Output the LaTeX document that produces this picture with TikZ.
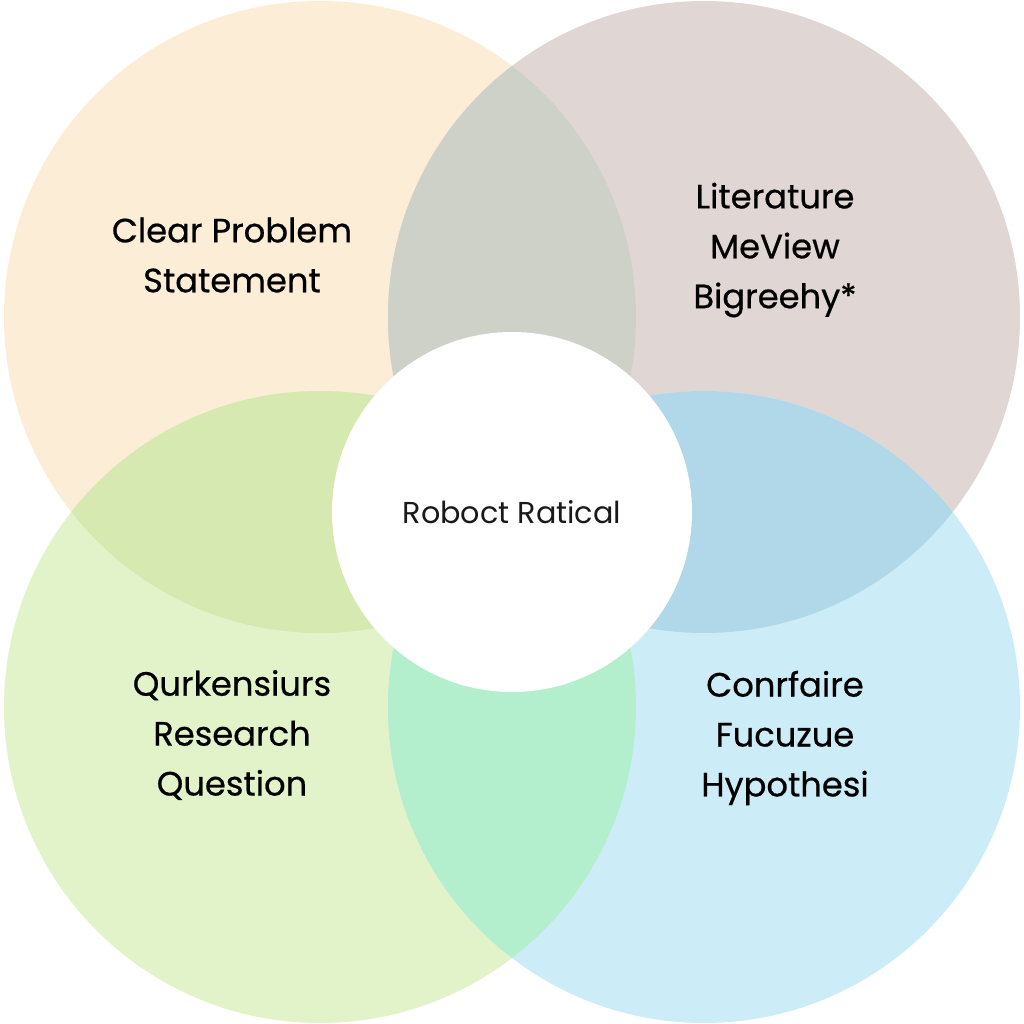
\documentclass[tikz,border=0pt]{standalone}
\usepackage{fontspec}
\setmainfont{Poppins}
\newfontfamily\labelfont{Poppins}[FakeBold=0.6]
\definecolor{probcream}{HTML}{FBEDD6}
\definecolor{litmauve}{HTML}{E0D6D3}
\definecolor{questgreen}{HTML}{E2F3C9}
\definecolor{hypoblue}{HTML}{CCEDF8}
\definecolor{probLit}{HTML}{CED1C8}
\definecolor{probQuest}{HTML}{D5E9B0}
\definecolor{litHypo}{HTML}{B1D8E8}
\definecolor{questHypo}{HTML}{B3EFCD}

\begin{document}
\begin{tikzpicture}

%
% Styles
%
\tikzstyle{label} = [align=center,font=\labelfont\fontsize{9.6}{14.2}\selectfont,text=black]
\tikzstyle{core} = [circle,fill=white,minimum size=3.6cm,inner sep=0pt,font=\fontsize{8.6}{10}\selectfont,text=black!90]

\useasboundingbox (0,0) rectangle (10.24,10.24);
\fill[white] (0,0) rectangle (10.24,10.24);

\def\rad{3.16}
\coordinate (cp) at (3.20,7.07);
\coordinate (cl) at (7.04,7.07);
\coordinate (cq) at (3.20,3.17);
\coordinate (ch) at (7.04,3.17);

% circles
\fill[probcream]  (cp) circle (\rad);
\fill[litmauve]   (cl) circle (\rad);
\fill[questgreen] (cq) circle (\rad);
\fill[hypoblue]   (ch) circle (\rad);

% overlaps
\begin{scope}
  \clip (cp) circle (\rad);
  \fill[probLit] (cl) circle (\rad);
  \fill[probQuest] (cq) circle (\rad);
\end{scope}
\begin{scope}
  \clip (ch) circle (\rad);
  \fill[litHypo] (cl) circle (\rad);
  \fill[questHypo] (cq) circle (\rad);
\end{scope}

\node[core] (center) at (5.12,5.12) {Roboct Ratical};

\node[label] (prob)  at (2.32,7.69) {Clear Problem\\Statement};
\node[label] (lit)   at (7.75,7.74) {Literature\\MeView\\Bigreehy*};
\node[label] (quest) at (2.32,2.89) {Qurkensiurs\\Research\\Question};
\node[label] (hypo)  at (7.85,2.86) {Conrfaire\\Fucuzue\\Hypothesi};

\end{tikzpicture}
\end{document}
